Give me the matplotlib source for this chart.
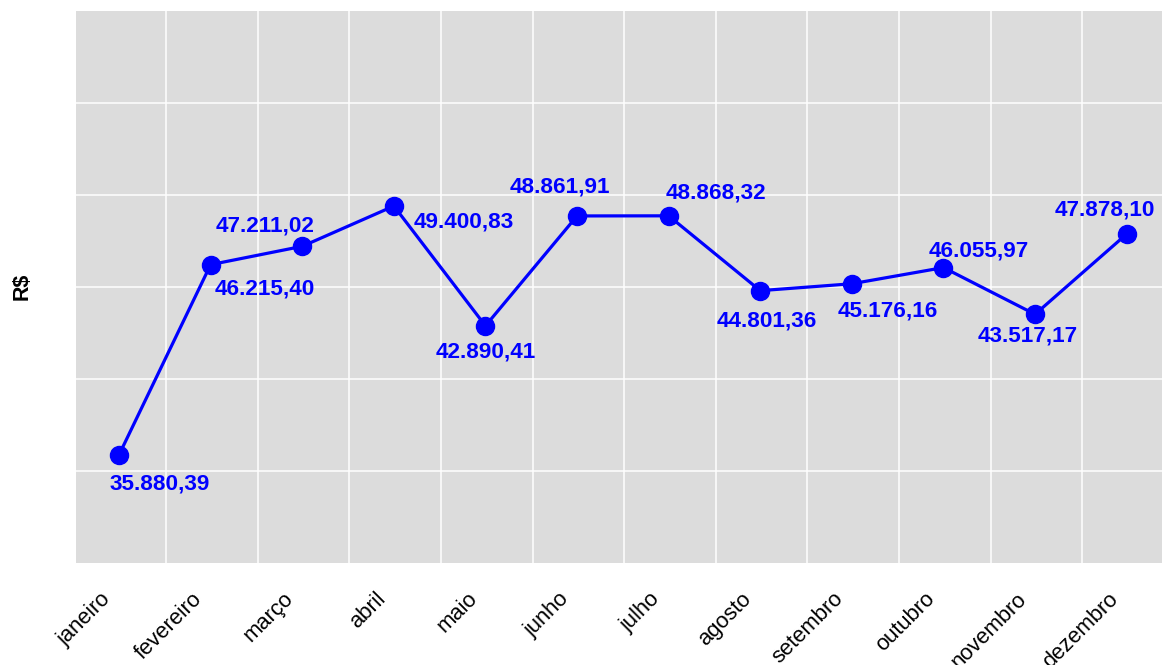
import matplotlib
matplotlib.use("Agg")
import matplotlib.pyplot as plt
import matplotlib.transforms as mtransforms
import numpy as np

months = ["janeiro", "fevereiro", "março", "abril", "maio", "junho",
          "julho", "agosto", "setembro", "outubro", "novembro", "dezembro"]
values = [35880.39, 46215.40, 47211.02, 49400.83, 42890.41, 48861.91,
          48868.32, 44801.36, 45176.16, 46055.97, 43517.17, 47878.10]
value_labels = ["35.880,39", "46.215,40", "47.211,02", "49.400,83", "42.890,41", "48.861,91",
                "48.868,32", "44.801,36", "45.176,16", "46.055,97", "43.517,17", "47.878,10"]
y_ticks = [35000, 40000, 45000, 50000, 55000]

# label offsets in pixels (dx, dy) -- layout only
label_offsets = [(41, -29), (54, -24), (-37, 20), (70, -16), (0, -26), (-17, 29),
                 (47, 23), (7, -30), (36, -27), (35, 17), (-7, -22), (-22, 24)]

plt.rcParams['font.family'] = ['Liberation Sans', 'DejaVu Sans']

W, H = 1162, 665
fig = plt.figure(figsize=(W / 100, H / 100), dpi=100)
left, right, top, bottom = 76, 1169.7, 11, 563
ax = fig.add_axes([left / W, (H - bottom) / H, (right - left) / W, (bottom - top) / H])
ax.set_facecolor("#DCDCDC")
for s in ax.spines.values():
    s.set_visible(False)

x = np.arange(len(months))
ax.plot(x, values, color="#0000FF", lw=2.3, marker="o", markersize=13, zorder=3)

for xi, v, lab, (dx, dy) in zip(x, values, value_labels, label_offsets):
    ax.annotate(lab, (xi, v), xytext=(dx, dy), textcoords="offset pixels",
                ha="center", va="center", color="#0000FF", fontsize=16.2,
                fontweight="bold", zorder=4)

ax.set_xlim(-0.47, 11.47)
ax.set_ylim(30000, 60000)
ax.set_xticks(x)
ax.set_xticklabels(months, rotation=45, ha="right", va="top",
                   rotation_mode="anchor", fontsize=15.8, color="black")
ax.set_xticks(x[:-1] + 0.515, minor=True)
ax.set_yticks(y_ticks)
ax.set_yticklabels([])
ax.tick_params(axis="both", which="both", length=0)
ax.tick_params(axis="x", which="major", pad=14)
ax.grid(False)
ax.grid(True, axis="x", which="minor", color="white", lw=1.1)
ax.grid(True, axis="y", which="major", color="white", lw=1.1)
ax.set_axisbelow(True)

offset = mtransforms.ScaledTranslation(-19 / 100, -6 / 100, fig.dpi_scale_trans)
for lbl in ax.get_xticklabels():
    lbl.set_transform(lbl.get_transform() + offset)

fig.text(22 / W, 1 - 286 / H, "R$", rotation=90, ha="center", va="center",
         fontsize=15.5, fontweight="bold", color="black")

fig.savefig("out.png", dpi=100)
